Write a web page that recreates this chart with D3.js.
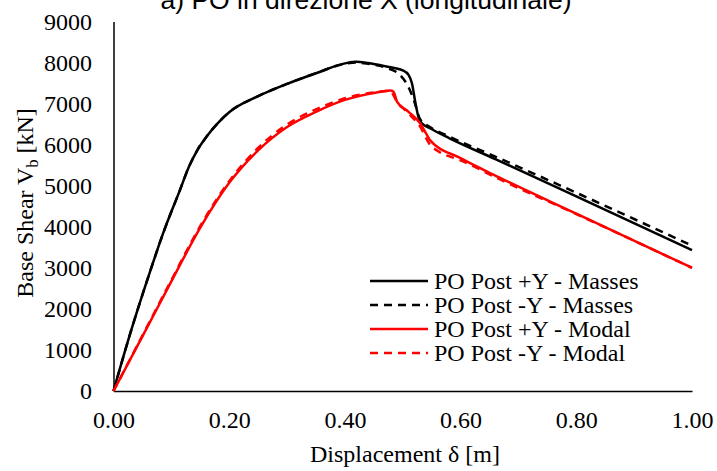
<!DOCTYPE html>
<html><head><meta charset="utf-8">
<script src="https://cdn.jsdelivr.net/npm/d3@7"></script>
<style>body{margin:0;background:#fff;} svg{display:block;}</style>
</head><body>
<script>
// ---- data ----
const titleText = "a) PO in direzione X (longitudinale)";
const xLabel = "Displacement δ [m]";
const seriesNames = ["PO Post +Y - Masses", "PO Post -Y - Masses", "PO Post +Y - Modal", "PO Post -Y - Modal"];
const xTicks = [0, 0.2, 0.4, 0.6, 0.8, 1.0];
const yTicks = [0, 1000, 2000, 3000, 4000, 5000, 6000, 7000, 8000, 9000];

const dPosMasses = [0, 0.03, 0.063, 0.086, 0.115, 0.13, 0.145, 0.161, 0.18, 0.20, 0.25, 0.30, 0.35, 0.40, 0.42, 0.44, 0.47, 0.50, 0.51, 0.516, 0.521, 0.527, 0.533, 0.547, 0.58, 0.66, 0.80, 1.00];
const vPosMasses = [0, 1450, 2900, 3850, 4900, 5450, 5870, 6200, 6520, 6790, 7180, 7480, 7740, 7980, 8020, 7990, 7910, 7810, 7700, 7490, 7090, 6680, 6520, 6400, 6160, 5650, 4740, 3430];

const dNegMasses = [0, 0.03, 0.063, 0.086, 0.115, 0.13, 0.145, 0.161, 0.18, 0.20, 0.25, 0.30, 0.35, 0.40, 0.42, 0.44, 0.47, 0.495, 0.51, 0.52, 0.53, 0.547, 0.58, 0.66, 0.80, 1.00];
const vNegMasses = [0, 1450, 2900, 3850, 4900, 5450, 5870, 6200, 6520, 6790, 7180, 7480, 7740, 7970, 8000, 7970, 7880, 7700, 7400, 7050, 6620, 6430, 6200, 5710, 4830, 3540];

const dPosModal = [0, 0.05, 0.10, 0.15, 0.20, 0.25, 0.30, 0.35, 0.40, 0.45, 0.478, 0.484, 0.49, 0.51, 0.53, 0.54, 0.547, 0.60, 0.67, 0.80, 1.00];
const vPosModal = [0, 1330, 2670, 3980, 5070, 5860, 6430, 6800, 7090, 7260, 7320, 7290, 7050, 6800, 6520, 6280, 6110, 5670, 5180, 4320, 3000];

const dNegModal = [0, 0.05, 0.10, 0.15, 0.20, 0.25, 0.30, 0.35, 0.40, 0.45, 0.478, 0.49, 0.51, 0.53, 0.547, 0.56, 0.60, 0.67, 0.80, 1.00];
const vNegModal = [0, 1350, 2700, 4020, 5110, 5920, 6490, 6860, 7130, 7270, 7310, 7050, 6760, 6440, 6000, 5850, 5620, 5140, 4310, 3000];

const seriesColors = ["#000000", "#000000", "#ff0000", "#ff0000"];
const seriesDash = [null, "8,6", null, "8,6"];

// ---- chart ----
const W = 717, H = 471;
const svg = d3.select("body").append("svg").attr("width", W).attr("height", H);
const x = d3.scaleLinear().domain([0, 1]).range([113.5, 692]);
const y = d3.scaleLinear().domain([0, 9000]).range([391, 21.5]);

const serif = "'Liberation Serif','Times New Roman',serif";

svg.append("text").attr("x", 366).attr("y", 8.5).attr("text-anchor", "middle")
  .attr("font-family", "'Liberation Sans',Arial,sans-serif").attr("font-size", 26)
  .attr("textLength", 411).attr("lengthAdjust", "spacingAndGlyphs")
  .attr("fill", "#000").text(titleText);

const yAxis = svg.append("g").attr("transform", `translate(${x(0)},0)`)
  .call(d3.axisLeft(y).tickValues(yTicks).tickSize(0).tickSizeOuter(0).tickPadding(21.5).tickFormat(d3.format("d")));
const xAxis = svg.append("g").attr("transform", `translate(0,${y(0)})`)
  .call(d3.axisBottom(x).tickValues(xTicks).tickSize(0).tickSizeOuter(0).tickPadding(20).tickFormat(d3.format(".2f")));
[xAxis, yAxis].forEach(a => {
  a.select(".domain").attr("stroke", "#000").attr("stroke-width", 1.5);
  a.selectAll("text").attr("font-family", serif).attr("font-size", 24).attr("fill", "#000");
});

svg.append("text").attr("x", 405).attr("y", 462).attr("text-anchor", "middle")
  .attr("font-family", serif).attr("font-size", 24).attr("fill", "#000").text(xLabel);

const yl = svg.append("text").attr("transform", "translate(33,203) rotate(-90)").attr("text-anchor", "middle")
  .attr("font-family", serif).attr("font-size", 24).attr("fill", "#000");
yl.append("tspan").text("Base Shear V");
yl.append("tspan").attr("font-size", 16).attr("dy", 5).text("b");
yl.append("tspan").attr("dy", -5).text(" [kN]");

const allD = [dPosMasses, dNegMasses, dPosModal, dNegModal];
const allV = [vPosMasses, vNegMasses, vPosModal, vNegModal];
const line = d3.line().x(p => x(p[0])).y(p => y(p[1])).curve(d3.curveMonotoneX);
const order = [1, 0, 3, 2];
order.forEach(i => {
  const pts = allD[i].map((d, k) => [d, allV[i][k]]);
  svg.append("path").datum(pts).attr("d", line).attr("fill", "none")
    .attr("stroke", seriesColors[i]).attr("stroke-width", 2.5)
    .attr("stroke-dasharray", seriesDash[i]).attr("stroke-linejoin", "round");
});

const lg = svg.append("g");
seriesNames.forEach((n, i) => {
  const yy = 281 + i * 24;
  lg.append("line").attr("x1", 370).attr("x2", 428).attr("y1", yy).attr("y2", yy)
    .attr("stroke", seriesColors[i]).attr("stroke-width", 2.5).attr("stroke-dasharray", seriesDash[i]);
  lg.append("text").attr("x", 434).attr("y", yy).attr("dy", "0.35em")
    .attr("font-family", serif).attr("font-size", 24).attr("fill", "#000").text(n);
});
</script>
</body></html>
